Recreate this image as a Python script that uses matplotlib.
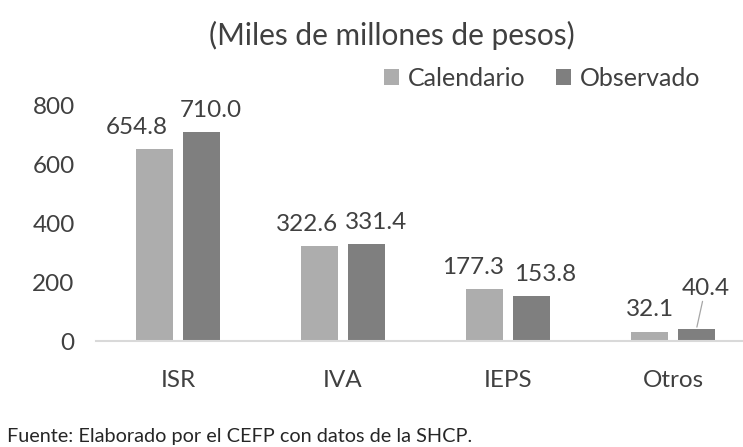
import matplotlib.pyplot as plt
import numpy as np

plt.rcParams['font.family'] = ['Lato', 'DejaVu Sans']

categorias = ['ISR', 'IVA', 'IEPS', 'Otros']
calendario = [654.8, 322.6, 177.3, 32.1]
observado = [710.0, 331.4, 153.8, 40.4]
yticks = [0, 200, 400, 600, 800]

# label nudges (points), labels were hand-placed in the original
dx_cal = [-13, -9.4, -8.6, 0]
dx_obs = [7, 7, 10, 6.5]

c_cal = '#ADADAD'
c_obs = '#7F7F7F'
txt = '#404040'

fig = plt.figure(figsize=(7.43, 4.47), dpi=100)
# category spacing ~165 px, axis runs past the right edge
ax = fig.add_axes([95.5/743, 106/447, 660/743, 235/447])

x = np.arange(len(categorias))
w = 0.224
d = 0.142
ax.bar(x - d, calendario, w, color=c_cal, label='Calendario')
ax.bar(x + d, observado, w, color=c_obs, label='Observado')

for i, v in enumerate(calendario):
    ax.annotate(f'{v:.1f}', (x[i] - d, v), xytext=(dx_cal[i], 8), textcoords='offset points',
                ha='center', va='bottom', fontsize=17.5, color=txt)
for i, v in enumerate(observado):
    if i == 3:
        ax.annotate(f'{v:.1f}', (x[i] + d, v), xytext=(dx_obs[i], 22), textcoords='offset points',
                    ha='center', va='bottom', fontsize=17.5, color=txt,
                    arrowprops=dict(arrowstyle='-', color='#A6A6A6', lw=0.9, shrinkA=0, shrinkB=1.5))
    else:
        ax.annotate(f'{v:.1f}', (x[i] + d, v), xytext=(dx_obs[i], 8), textcoords='offset points',
                    ha='center', va='bottom', fontsize=17.5, color=txt)

ax.set_xlim(-0.5, 3.5)
ax.set_ylim(0, 800)
ax.set_yticks(yticks)
ax.set_xticks(x)
ax.set_xticklabels(categorias)
ax.tick_params(axis='both', length=0, labelsize=17.5, labelcolor=txt)
ax.tick_params(axis='x', pad=21)
ax.tick_params(axis='y', pad=15)
for s in ['top', 'right', 'left']:
    ax.spines[s].set_visible(False)
ax.spines['bottom'].set_color('#D9D9D9')
ax.spines['bottom'].set_linewidth(1.5)

fig.text(0.527, 0.92, '(Miles de millones de pesos)', ha='center', va='center', fontsize=21.5, color=txt)
fig.legend(loc='center', bbox_to_anchor=(0.73, 0.825), ncol=2, frameon=False, fontsize=18,
           handlelength=0.6, handleheight=0.6, handletextpad=0.36, columnspacing=1.2,
           labelcolor=txt)
fig.text(0.01, 0.011, 'Fuente: Elaborado por el CEFP con datos de la SHCP.', ha='left', va='baseline',
         fontsize=14.3, color='#262626')

fig.savefig('out.png', dpi=100)
